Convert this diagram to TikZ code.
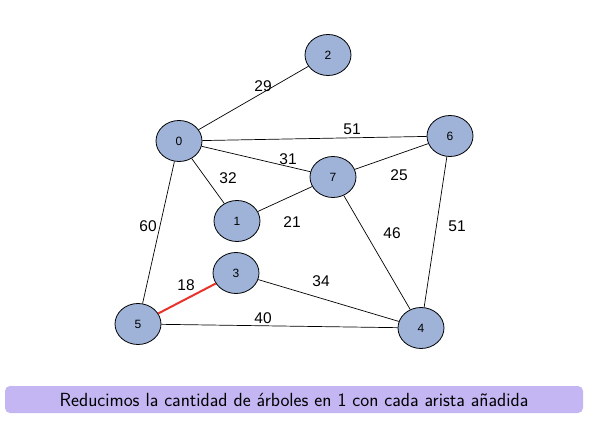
\documentclass[tikz,border=0pt]{standalone}
\usepackage{fontspec}
\newfontfamily\lab{Liberation Sans}
\usetikzlibrary{shapes.geometric}
\definecolor{nodefill}{HTML}{9FB3D9}
\definecolor{capfill}{HTML}{C3B6F2}
\definecolor{redge}{HTML}{E8332A}
\tikzset{
  vert/.style={ellipse, draw=black, line width=0.8pt, fill=nodefill, minimum width=46pt, minimum height=41pt, inner sep=0pt, font=\lab\fontsize{12}{14}\selectfont},
  edge/.style={draw=black, line width=0.7pt},
  wlab/.style={font=\lab\fontsize{15.5}{18}\selectfont, inner sep=1pt},
}
\begin{document}
\begin{tikzpicture}[x=1pt,y=-1pt]
\useasboundingbox (0,0) rectangle (599,430);
\node[vert] (n0) at (179,141) {0};
\node[vert] (n2) at (328,55) {2};
\node[vert] (n6) at (450,136) {6};
\node[vert] (n7) at (333,177) {7};
\node[vert] (n1) at (237,221) {1};
\node[vert] (n3) at (236,273) {3};
\node[vert] (n5) at (138,324) {5};
\node[vert] (n4) at (421,328) {4};
\draw[edge] (n0) -- (n2);
\draw[edge] (n0) -- (n6);
\draw[edge] (n0) -- (n7);
\draw[edge] (n0) -- (n1);
\draw[edge] (n0) -- (n5);
\draw[edge] (n1) -- (n7);
\draw[edge] (n7) -- (n6);
\draw[edge] (n7) -- (n4);
\draw[edge] (n6) -- (n4);
\draw[edge] (n3) -- (n4);
\draw[edge] (n5) -- (n4);
\draw[draw=redge, line width=2pt] (n5) -- (n3);
\node[wlab] (l29) at (263,86) {29};
\node[wlab] (l51a) at (352,129) {51};
\node[wlab] (l31) at (288,159) {31};
\node[wlab] (l32) at (228,178) {32};
\node[wlab] (l25) at (399,175) {25};
\node[wlab] (l21) at (292,222) {21};
\node[wlab] (l46) at (392,233) {46};
\node[wlab] (l51b) at (457,226) {51};
\node[wlab] (l60) at (148,226) {60};
\node[wlab] (l18) at (186,285) {18};
\node[wlab] (l34) at (321,281) {34};
\node[wlab] (l40) at (263,318) {40};
\node[draw=none, fill=capfill, rounded corners=5pt, minimum width=578pt, minimum height=27pt, inner sep=0pt, font=\sffamily\fontsize{19}{22}\selectfont] (cap) at (294,399.5) {Reducimos la cantidad de árboles en 1 con cada arista añadida};
\end{tikzpicture}
\end{document}
